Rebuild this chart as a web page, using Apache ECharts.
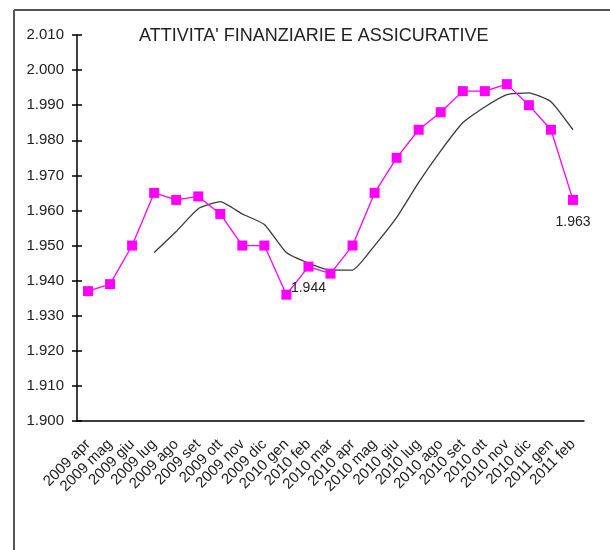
<!DOCTYPE html>
<html>
<head>
<meta charset="utf-8">
<script src="https://cdn.jsdelivr.net/npm/echarts@6/dist/echarts.min.js"></script>
<style>
  html, body { margin: 0; padding: 0; background: #fff; }
  #myChart { width: 610px; height: 550px; }
</style>
</head>
<body>
<div id="myChart"></div>
<script>
// mesi
const months = [
  "2009 apr", "2009 mag", "2009 giu", "2009 lug", "2009 ago", "2009 set",
  "2009 ott", "2009 nov", "2009 dic", "2010 gen", "2010 feb", "2010 mar",
  "2010 apr", "2010 mag", "2010 giu", "2010 lug", "2010 ago", "2010 set",
  "2010 ott", "2010 nov", "2010 dic", "2011 gen", "2011 feb"
];
// valori mensili (migliaia)
const valori = [
  1.937, 1.939, 1.950, 1.965, 1.963, 1.964, 1.959, 1.950, 1.950, 1.936,
  1.944, 1.942, 1.950, 1.965, 1.975, 1.983, 1.988, 1.994, 1.994, 1.996,
  1.990, 1.983, 1.963
];
// media mobile
const media = [
  null, null, null, 1.948, 1.954, 1.9605, 1.9625, 1.959, 1.956, 1.948,
  1.945, 1.943, 1.943, 1.950, 1.958, 1.968, 1.977, 1.985, 1.9895, 1.993,
  1.9935, 1.991, 1.983
];
// punti con etichetta
const etichette = ["2010 feb", "2011 feb"];

const yMin = 1.9, yMax = 2.01, yStep = 0.01;

let myChart = echarts.init(document.getElementById("myChart"));
const font = "Liberation Sans, Arial, sans-serif";

myChart.setOption({
  animation: false,
  title: {
    text: "ATTIVITA' FINANZIARIE E ASSICURATIVE",
    left: 134,
    top: 22,
    textStyle: { fontFamily: font, fontSize: 18, fontWeight: "normal", color: "#222" }
  },
  grid: { left: 77, right: 26, top: 35, bottom: 129 },
  graphic: [
    { type: "line", shape: { x1: 14, y1: 10, x2: 610, y2: 10 }, style: { stroke: "#555", lineWidth: 2 } },
    { type: "line", shape: { x1: 14, y1: 10, x2: 14, y2: 550 }, style: { stroke: "#555", lineWidth: 2 } }
  ],
  xAxis: [
    {
      type: "category",
      data: months,
      axisLine: { lineStyle: { color: "#000", width: 1.5 } },
      axisTick: { length: 5, lineStyle: { color: "#000", width: 1.5 } },
      axisLabel: {
        rotate: 45, interval: 0, margin: 21,
        fontFamily: font, fontSize: 15, color: "#222"
      }
    },
    {
      type: "category",
      data: months,
      position: "bottom",
      axisLine: { show: false },
      axisTick: { inside: true, length: 5, lineStyle: { color: "#000", width: 1.5 } },
      axisLabel: { show: false }
    }
  ],
  yAxis: [
    {
      type: "value",
      min: yMin, max: yMax, interval: yStep,
      splitLine: { show: false },
      axisLine: { show: true, lineStyle: { color: "#000", width: 1.5 } },
      axisTick: { show: true, length: 5, lineStyle: { color: "#000", width: 1.5 } },
      axisLabel: {
        margin: 13, fontFamily: font, fontSize: 15, color: "#222",
        formatter: v => v.toFixed(3)
      }
    },
    {
      type: "value",
      min: yMin, max: yMax, interval: yStep,
      position: "left",
      splitLine: { show: false },
      axisLine: { show: false },
      axisTick: { show: true, inside: true, length: 5, lineStyle: { color: "#000", width: 1.5 } },
      axisLabel: { show: false }
    }
  ],
  series: [
    {
      type: "line",
      data: media,
      smooth: 0.15,
      symbol: "none",
      lineStyle: { color: "#3a3a3a", width: 1.3 },
      z: 2
    },
    {
      type: "line",
      data: valori.map((v, i) => ({
        value: v,
        label: {
          show: etichette.includes(months[i]),
          position: "bottom",
          distance: 10,
          fontFamily: font,
          fontSize: 14,
          color: "#222",
          formatter: p => p.value.toFixed(3)
        }
      })),
      symbol: "rect",
      symbolSize: 10,
      itemStyle: { color: "#ff00ff" },
      lineStyle: { color: "#ff00ff", width: 1.3 },
      z: 3
    }
  ]
});
</script>
</body>
</html>
